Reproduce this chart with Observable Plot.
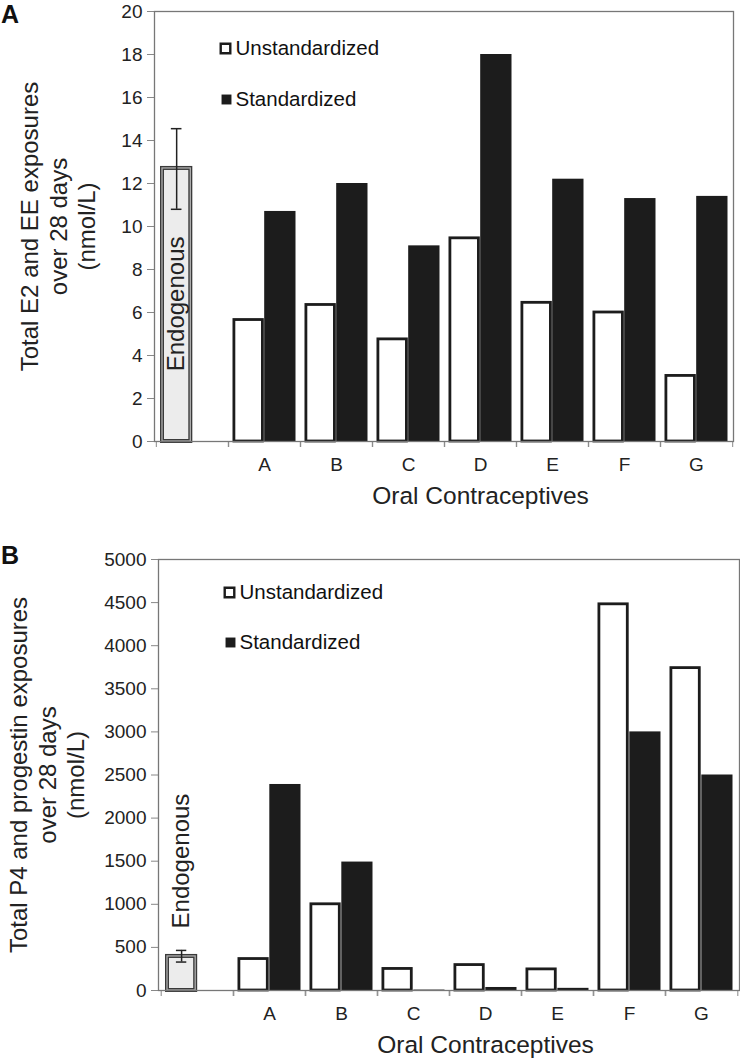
<!DOCTYPE html>
<html><head><meta charset="utf-8">
<script src="https://cdn.jsdelivr.net/npm/d3@7"></script>
<script src="https://cdn.jsdelivr.net/npm/@observablehq/plot@0.6"></script>
<style>
body{margin:0;background:#fff;font-family:"Liberation Sans",Arial,sans-serif;}
#wrap{position:relative;width:740px;height:1058px;overflow:hidden;}
.panel{position:absolute;left:0;}
.plab{position:absolute;font-weight:bold;font-size:25px;color:#111;line-height:1;}
</style></head><body>
<div id="wrap">
<div id="pa" class="panel" style="top:0"></div>
<div id="pb" class="panel" style="top:529px"></div>
<div class="plab" style="left:1px;top:2px">A</div>
<div class="plab" style="left:1px;top:543px">B</div>
</div>
<script>
// ---- data ----
const categories = ["Endo", "A", "B", "C", "D", "E", "F", "G"];
const contraceptives = ["A", "B", "C", "D", "E", "F", "G"];
const legendLabels = ["Unstandardized", "Standardized"];
const xTitle = "Oral Contraceptives";
const endoLabel = "Endogenous";

const e2Title = "Total E2 and EE exposures\nover 28 days\n(nmol/L)";
const e2Unstd = [5.65, 6.35, 4.75, 9.45, 6.45, 6.0, 3.05];
const e2Std = [10.7, 12.0, 9.1, 18.0, 12.2, 11.3, 11.4];
const e2Endo = 12.7;
const e2EndoErr = [10.8, 14.55];
const e2Ticks = [0, 2, 4, 6, 8, 10, 12, 14, 16, 18, 20];

const p4Title = "Total P4 and progestin exposures\nover 28 days\n(nmol/L)";
const p4Unstd = [365, 1000, 250, 295, 245, 4480, 3740];
const p4Std = [2390, 1490, 5, 35, 25, 3000, 2500];
const p4Endo = 395;
const p4EndoErr = [330, 465];
const p4Ticks = [0, 500, 1000, 1500, 2000, 2500, 3000, 3500, 4000, 4500, 5000];

function panel(o) {
  const W = 740, H = 529;
  const bw = (W - o.ml - o.mr) / categories.length;
  const insL = 4.5, insR = 4.5;
  const half = (bw - insL - insR) / 2;
  const rows = contraceptives.map((c, i) => ({cat: c, unstd: o.unstd[i], std: o.std[i]}));
  const endoRow = [{cat: "Endo", v: o.endo, lo: o.err[0], hi: o.err[1]}];
  const barCenter = insL + half / 2;        // from band's left edge
  const dxCenter = barCenter - bw / 2;
  const tk = 5.5;
  const ink = "#1c1c1c";
  return Plot.plot({
    width: W, height: H,
    marginLeft: o.ml, marginRight: o.mr, marginTop: o.mt, marginBottom: o.mb,
    style: {fontFamily: "'Liberation Sans', Arial, sans-serif", color: "#222", background: "#fff", overflow: "visible"},
    x: {type: "band", domain: categories, padding: 0, axis: null},
    y: {domain: [0, o.ticks[o.ticks.length - 1]], axis: null},
    marks: [
      Plot.axisY({ticks: o.ticks, tickSize: 7, tickPadding: 5, fontSize: 19, stroke: "#888", tickFormat: d => String(d), label: null}),
      Plot.axisX({ticks: categories, tickSize: 6, dx: -bw / 2, tickFormat: () => "", label: null, stroke: "#888"}),
      Plot.axisX({ticks: categories, tickSize: 6, dx: bw / 2, tickFormat: () => "", label: null, stroke: "#888"}),
      Plot.axisX({ticks: contraceptives, tickSize: 0, tickPadding: 16, fontSize: 19, label: null}),
      Plot.barY(rows, {x: "cat", y: "std", fill: ink, insetLeft: insL + half, insetRight: insR}),
      Plot.barY(rows, {x: "cat", y: "unstd", fill: "#fff", stroke: ink, strokeWidth: 2.8, insetLeft: insL + 1.4, insetRight: insR + half + 1.4}),
      Plot.barY(endoRow, {x: "cat", y: "v", fill: "#ececec", stroke: "#3a3a3a", strokeWidth: 4, insetLeft: insL + 1.5, insetRight: insR + half + 1.5}),
      Plot.barY(endoRow, {x: "cat", y: "v", fill: "none", stroke: "#b0b0b0", strokeWidth: 1.3, insetLeft: insL + 1.5, insetRight: insR + half + 1.5}),
      Plot.ruleX(endoRow, {x: "cat", y1: "lo", y2: "hi", dx: dxCenter, stroke: "#222", strokeWidth: 1.5}),
      Plot.tickY(endoRow, {x: "cat", y: "lo", stroke: "#222", strokeWidth: 1.5, insetLeft: barCenter - tk, insetRight: bw - barCenter - tk}),
      Plot.tickY(endoRow, {x: "cat", y: "hi", stroke: "#222", strokeWidth: 1.5, insetLeft: barCenter - tk, insetRight: bw - barCenter - tk}),
      Plot.text([endoLabel], {x: () => "Endo", y: () => o.endoTextY, rotate: -90, textAnchor: o.endoAnchor, dx: dxCenter, fontSize: 24, fill: "#222"}),
      Plot.frame({stroke: "#777", strokeWidth: 1.3}),
      // legend
      Plot.dot([legendLabels[0]], {frameAnchor: "top-left", dx: o.legDx, dy: o.legDy[0], symbol: "square", r: 5.4, fill: "#fff", stroke: ink, strokeWidth: 2.4}),
      Plot.text([legendLabels[0]], {frameAnchor: "top-left", dx: o.legDx + 10, dy: o.legDy[0], textAnchor: "start", lineAnchor: "middle", fontSize: 20.5, fill: "#111"}),
      Plot.dot([legendLabels[1]], {frameAnchor: "top-left", dx: o.legDx + 1, dy: o.legDy[1], symbol: "square", r: 5.6, fill: ink}),
      Plot.text([legendLabels[1]], {frameAnchor: "top-left", dx: o.legDx + 10, dy: o.legDy[1], textAnchor: "start", lineAnchor: "middle", fontSize: 20.5, fill: "#111"}),
      // axis titles
      Plot.text([o.title], {frameAnchor: "left", dx: o.titleDx, rotate: -90, textAnchor: "middle", lineAnchor: "middle", lineHeight: 1.17, fontSize: 24, fill: "#222"}),
      Plot.text([xTitle], {x: () => "D", frameAnchor: "bottom", dy: 55, lineAnchor: "middle", fontSize: 24.5, fill: "#222"})
    ]
  });
}

document.getElementById("pa").append(panel({
  unstd: e2Unstd, std: e2Std, endo: e2Endo, err: e2EndoErr, ticks: e2Ticks, title: e2Title,
  ml: 154, mr: 7, mt: 11, mb: 88, endoTextY: 6.4, endoAnchor: "middle",
  legDx: 71, legDy: [37, 88], titleDx: -97
}));
document.getElementById("pb").append(panel({
  unstd: p4Unstd, std: p4Std, endo: p4Endo, err: p4EndoErr, ticks: p4Ticks, title: p4Title,
  ml: 158, mr: 1, mt: 30, mb: 68, endoTextY: 720, endoAnchor: "start",
  legDx: 71, legDy: [33, 83], titleDx: -112
}));
</script>
</body></html>
